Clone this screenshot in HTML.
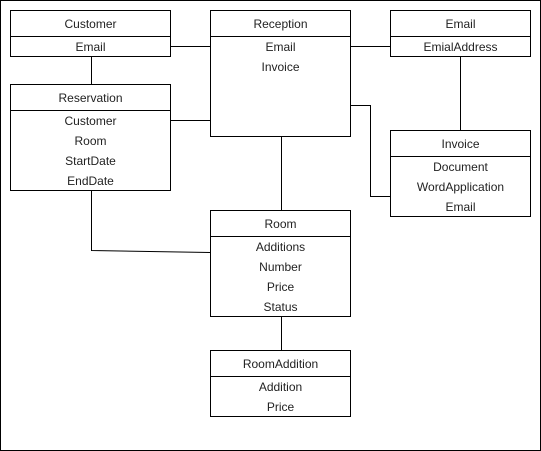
<!DOCTYPE html>
<html><head><style>html,body{margin:0;padding:0;background:#fff}svg{display:block}</style></head><body>
<svg width="541" height="451" xmlns="http://www.w3.org/2000/svg" font-family="Liberation Sans, Arial, sans-serif" font-size="12" fill="none">
<rect x="0.5" y="0.5" width="540" height="450" stroke="#000"/>
<g stroke="#000" stroke-width="1">
<line x1="171" y1="46.5" x2="210" y2="46.5"/>
<line x1="91.5" y1="56" x2="91.5" y2="84"/>
<line x1="171" y1="120.5" x2="210" y2="120.5"/>
<line x1="351" y1="46.5" x2="390" y2="46.5"/>
<line x1="460.5" y1="56" x2="460.5" y2="130"/>
<polyline points="351,105.5 370.5,105.5 370.5,196.5 390,196.5"/>
<line x1="281.5" y1="136" x2="281.5" y2="210"/>
<polyline points="91.5,190 91.5,250.5 210,252.5"/>
<line x1="281.5" y1="316" x2="281.5" y2="350"/>
<rect x="10.5" y="10.5" width="160" height="46" fill="#fff"/><line x1="10.5" y1="36.5" x2="170.5" y2="36.5"/>
<rect x="210.5" y="10.5" width="140" height="126" fill="#fff"/><line x1="210.5" y1="36.5" x2="350.5" y2="36.5"/>
<rect x="390.5" y="10.5" width="140" height="46" fill="#fff"/><line x1="390.5" y1="36.5" x2="530.5" y2="36.5"/>
<rect x="10.5" y="84.5" width="160" height="106" fill="#fff"/><line x1="10.5" y1="110.5" x2="170.5" y2="110.5"/>
<rect x="390.5" y="130.5" width="140" height="86" fill="#fff"/><line x1="390.5" y1="156.5" x2="530.5" y2="156.5"/>
<rect x="210.5" y="210.5" width="140" height="106" fill="#fff"/><line x1="210.5" y1="236.5" x2="350.5" y2="236.5"/>
<rect x="210.5" y="350.5" width="140" height="66" fill="#fff"/><line x1="210.5" y1="376.5" x2="350.5" y2="376.5"/>
</g>
<g fill="#222" text-anchor="middle">
<text x="90.5" y="28">Customer</text><text x="90.5" y="51">Email</text>
<text x="280.5" y="28">Reception</text><text x="280.5" y="51">Email</text><text x="280.5" y="71">Invoice</text>
<text x="460.5" y="28">Email</text><text x="460.5" y="51">EmialAddress</text>
<text x="90.5" y="102">Reservation</text><text x="90.5" y="125">Customer</text><text x="90.5" y="145">Room</text><text x="90.5" y="165">StartDate</text><text x="90.5" y="185">EndDate</text>
<text x="460.5" y="148">Invoice</text><text x="460.5" y="171">Document</text><text x="460.5" y="191">WordApplication</text><text x="460.5" y="211">Email</text>
<text x="280.5" y="228">Room</text><text x="280.5" y="251">Additions</text><text x="280.5" y="271">Number</text><text x="280.5" y="291">Price</text><text x="280.5" y="311">Status</text>
<text x="280.5" y="368">RoomAddition</text><text x="280.5" y="391">Addition</text><text x="280.5" y="411">Price</text>
</g>
</svg>
</body></html>
